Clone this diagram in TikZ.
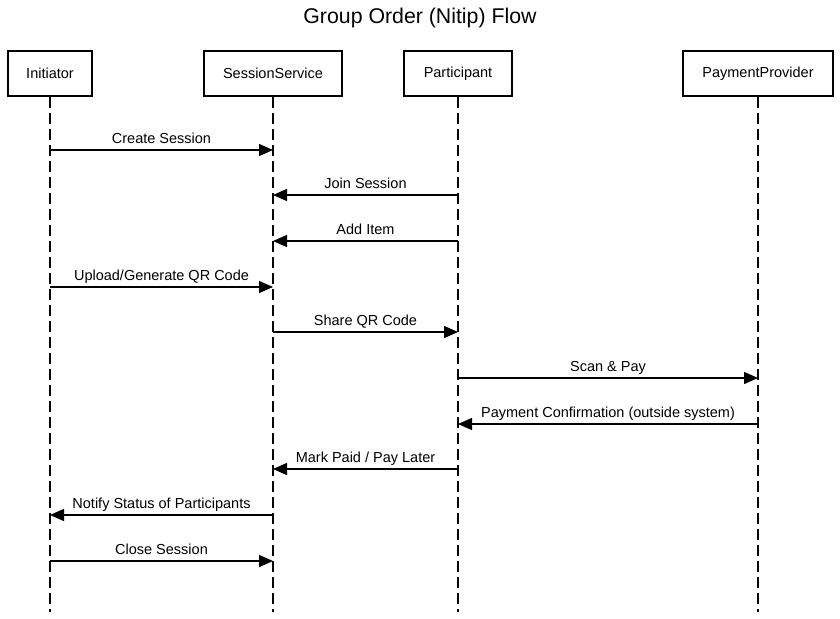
\documentclass[tikz,border=0pt]{standalone}
\usepackage{fontspec}
\setmainfont{Liberation Sans}
\usetikzlibrary{arrows.meta}

\tikzset{
  actor/.style={draw,line width=2.2pt,minimum height=45pt,inner sep=2pt,font=\fontsize{14.5}{17}\selectfont},
  life/.style={line width=1.4pt,dash pattern=on 11pt off 5pt},
  msg/.style={line width=1.4pt,-{Triangle[length=14pt,width=12pt]}},
  lbl/.style={anchor=base,yshift=7pt,inner sep=0pt,font=\fontsize{14.5}{17}\selectfont}
}

\begin{document}
\begin{tikzpicture}[x=1pt,y=-1pt]
        \useasboundingbox (0,0) rectangle (840,618);
        \node[font=\fontsize{21.3}{25}\selectfont] (title) at (420,18) {Group Order (Nitip) Flow};
        \node[actor,minimum width=84pt] (ini) at (50,73.5) {Initiator};
        \node[actor,minimum width=138pt] (ses) at (273,73.5) {SessionService};
        \node[actor,minimum width=108pt] (par) at (458,73.5) {Participant};
        \node[actor,minimum width=150pt] (pay) at (758,73.5) {PaymentProvider};
        \foreach \a in {ini,ses,par,pay}
            \draw[life] (\a.south) -- (\a |- 0,612);
        \draw[msg] (ini |- 0,150) -- node[lbl] {Create Session} (ses |- 0,150);
        \draw[msg] (par |- 0,195) -- node[lbl] {Join Session} (ses |- 0,195);
        \draw[msg] (par |- 0,241) -- node[lbl] {Add Item} (ses |- 0,241);
        \draw[msg] (ini |- 0,287) -- node[lbl] {Upload/Generate QR Code} (ses |- 0,287);
        \draw[msg] (ses |- 0,332) -- node[lbl] {Share QR Code} (par |- 0,332);
        \draw[msg] (par |- 0,378) -- node[lbl] {Scan \& Pay} (pay |- 0,378);
        \draw[msg] (pay |- 0,424) -- node[lbl] {Payment Confirmation (outside system)} (par |- 0,424);
        \draw[msg] (par |- 0,469) -- node[lbl] {Mark Paid / Pay Later} (ses |- 0,469);
        \draw[msg] (ses |- 0,515) -- node[lbl] {Notify Status of Participants} (ini |- 0,515);
        \draw[msg] (ini |- 0,561) -- node[lbl] {Close Session} (ses |- 0,561);
    \end{tikzpicture}
\end{document}
